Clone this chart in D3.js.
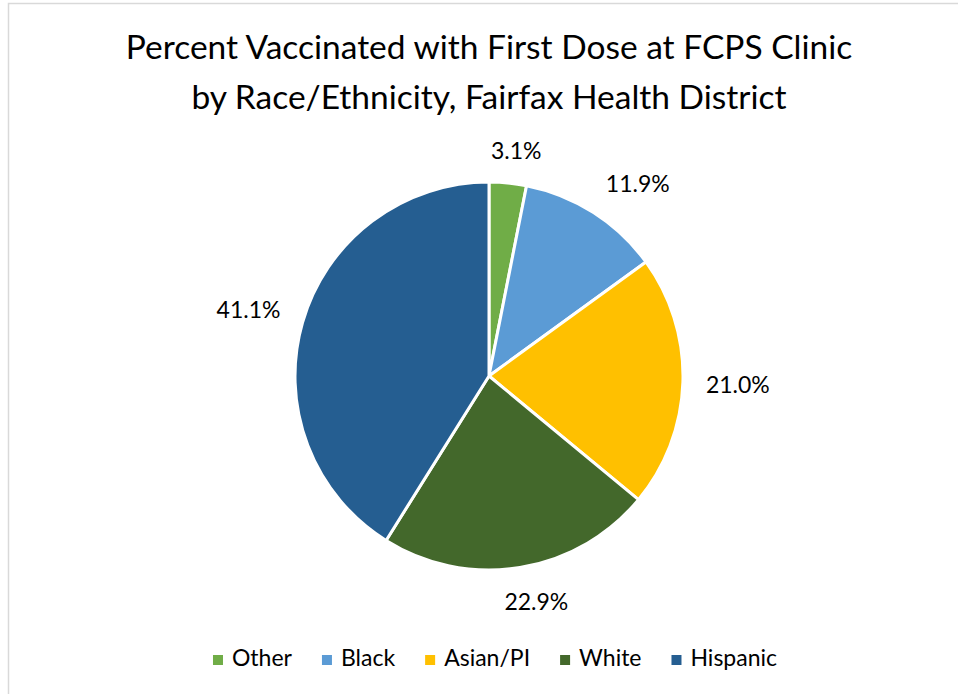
<!DOCTYPE html>
<html>
<head>
<meta charset="utf-8">
<script src="https://cdn.jsdelivr.net/npm/d3@7"></script>
<style>
  html, body { margin: 0; padding: 0; background: #fff; }
  svg { display: block; }
  text { font-family: Lato, "Open Sans", sans-serif; fill: #000; }
</style>
</head>
<body>
<svg id="chart" width="958" height="694"></svg>
<script>
// Share of first doses at the FCPS clinic, by race/ethnicity (%)
const categories = ["Other", "Black", "Asian/PI", "White", "Hispanic"];
const values = [3.1, 11.9, 21.0, 22.9, 41.1];
const colors = ["#70AD47", "#5B9BD5", "#FFC000", "#43682B", "#255E91"];
const titleLines = [
  "Percent Vaccinated with First Dose at FCPS Clinic",
  "by Race/Ethnicity, Fairfax Health District"
];

const W = 958, H = 694;
const svg = d3.select("#chart");

// light frame around the chart area
svg.append("rect")
  .attr("x", 8.5).attr("y", 3.5)
  .attr("width", W + 20).attr("height", H + 20)
  .attr("fill", "none")
  .attr("stroke", "#d9d9d9")
  .attr("stroke-width", 1.5);

// title
svg.append("g").selectAll("text")
  .data(titleLines)
  .join("text")
  .attr("x", 489)
  .attr("y", (d, i) => 59 + i * 50)
  .attr("text-anchor", "middle")
  .style("font-size", "33.5px")
  .text(d => d);

// pie
const cx = 489, cy = 376, r = 194;
const color = d3.scaleOrdinal().domain(categories).range(colors);
const data = categories.map((c, i) => ({ name: c, value: values[i] }));
const pie = d3.pie().value(d => d.value).sort(null);
const arcs = pie(data);
const arc = d3.arc().innerRadius(0).outerRadius(r);

const g = svg.append("g").attr("transform", `translate(${cx},${cy})`);
g.selectAll("path")
  .data(arcs)
  .join("path")
  .attr("d", arc)
  .attr("fill", d => color(d.data.name))
  .attr("stroke", "#fff")
  .attr("stroke-width", 3)
  .attr("stroke-linejoin", "round");

// outside-end data labels
const labelSize = 23;
const labelR = 217;
const clamp = v => Math.max(-1, Math.min(1, v));
const fmt = d3.format(".1f");
const labels = g.selectAll("text.lbl")
  .data(arcs)
  .join("text")
  .attr("class", "lbl")
  .attr("text-anchor", "middle")
  .attr("dominant-baseline", "central")
  .style("font-size", labelSize + "px")
  .text(d => fmt(d.data.value) + "%");

labels.each(function(d) {
  const a = (d.startAngle + d.endAngle) / 2;
  const s = Math.sin(a), c = Math.cos(a);
  const w = this.getComputedTextLength();
  const h = labelSize * 0.9;
  const px = labelR * s, py = -labelR * c;
  const x = px + w / 2 * clamp(s * 2.5);
  const y = py - h / 2 * clamp(c * 2.5);
  d3.select(this).attr("x", x).attr("y", y);
});

// legend
const legend = svg.append("g");
const items = legend.selectAll("g")
  .data(categories)
  .join("g");
items.append("rect")
  .attr("width", 10).attr("height", 10)
  .attr("y", -11)
  .attr("fill", d => color(d));
items.append("text")
  .attr("x", 19)
  .style("font-size", "23px")
  .text(d => d);

let offset = 0;
items.each(function() {
  const w = d3.select(this).select("text").node().getComputedTextLength();
  d3.select(this).attr("transform", `translate(${offset},0)`);
  offset += 19 + w + 30;
});
const totalW = offset - 30;
legend.attr("transform", `translate(${495 - totalW / 2},666)`);
</script>
</body>
</html>
